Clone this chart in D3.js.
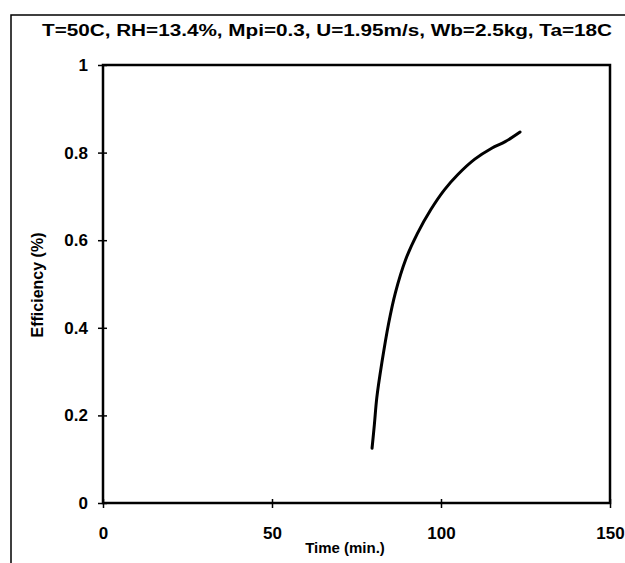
<!DOCTYPE html>
<html>
<head>
<meta charset="utf-8">
<script src="https://cdn.jsdelivr.net/npm/d3@7"></script>
<style>
  html, body { margin: 0; padding: 0; background: #fff; }
  svg { display: block; }
  text { font-family: "Liberation Sans", Arial, sans-serif; font-weight: bold; fill: #000; }
</style>
</head>
<body>
<svg id="chart" width="625" height="563"></svg>
<script>
// Drying efficiency over time
const timeMin = [79.6, 80.3, 81.0, 82.5, 84.5, 86.5, 89.5, 93.0, 97.0, 101.0, 105.0, 110.0, 115.0, 119.0, 123.4];
const efficiency = [0.125, 0.18, 0.24, 0.32, 0.41, 0.48, 0.555, 0.615, 0.67, 0.715, 0.75, 0.785, 0.81, 0.825, 0.847];
const xTicks = [0, 50, 100, 150];
const yTicks = [0, 0.2, 0.4, 0.6, 0.8, 1];
const titleText = "T=50C, RH=13.4%, Mpi=0.3, U=1.95m/s, Wb=2.5kg, Ta=18C";

const svg = d3.select("#chart");
const plot = { left: 103, right: 610, top: 65, bottom: 503 };

// outer frame
svg.append("rect")
  .attr("x", 11).attr("y", 15).attr("width", 640).attr("height", 600)
  .attr("fill", "none").attr("stroke", "#000").attr("stroke-width", 1.5);

svg.append("text")
  .attr("x", 42).attr("y", 36)
  .attr("font-size", 16)
  .attr("textLength", 570).attr("lengthAdjust", "spacingAndGlyphs")
  .text(titleText);

const x = d3.scaleLinear().domain([0, 150]).range([plot.left, plot.right]);
const y = d3.scaleLinear().domain([0, 1]).range([plot.bottom, plot.top]);

// plot area border
svg.append("rect")
  .attr("x", plot.left).attr("y", plot.top)
  .attr("width", plot.right - plot.left).attr("height", plot.bottom - plot.top)
  .attr("fill", "none").attr("stroke", "#000").attr("stroke-width", 2.5);

// y axis ticks (crossing the axis line)
const yAxis = svg.append("g").attr("transform", `translate(${plot.left},0)`)
  .call(d3.axisLeft(y).tickValues(yTicks).tickSize(5).tickFormat(d => d3.format("")(d)));
yAxis.select(".domain").remove();
yAxis.selectAll(".tick line").attr("x2", -5).attr("x1", 4).attr("stroke-width", 1.5);
yAxis.selectAll(".tick text")
  .attr("x", -15).attr("font-size", 17).attr("font-family", "Liberation Sans, Arial, sans-serif")
  .attr("font-weight", "bold");

// x axis ticks
const xAxis = svg.append("g").attr("transform", `translate(0,${plot.bottom})`)
  .call(d3.axisBottom(x).tickValues(xTicks).tickSize(5));
xAxis.select(".domain").remove();
xAxis.selectAll(".tick line").attr("y1", -4).attr("y2", 5).attr("stroke-width", 1.5);
xAxis.selectAll(".tick text")
  .attr("y", 24).attr("font-size", 17).attr("font-family", "Liberation Sans, Arial, sans-serif")
  .attr("font-weight", "bold");

// axis titles
svg.append("text")
  .attr("x", 345).attr("y", 553)
  .attr("text-anchor", "middle").attr("font-size", 15)
  .text("Time (min.)");

svg.append("text")
  .attr("transform", "translate(43,285) rotate(-90)")
  .attr("text-anchor", "middle").attr("font-size", 16)
  .text("Efficiency (%)");

// efficiency curve
const pts = timeMin.map((t, i) => [t, efficiency[i]]);
svg.append("path")
  .datum(pts)
  .attr("fill", "none").attr("stroke", "#000").attr("stroke-width", 3)
  .attr("stroke-linecap", "round").attr("stroke-linejoin", "round")
  .attr("d", d3.line().x(d => x(d[0])).y(d => y(d[1])).curve(d3.curveCatmullRom));
</script>
</body>
</html>
